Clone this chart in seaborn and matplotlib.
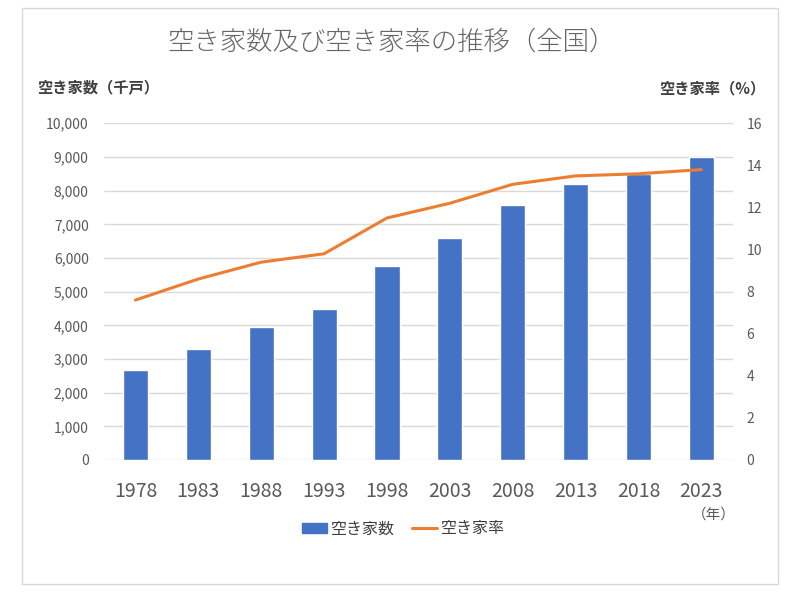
import matplotlib
matplotlib.use("Agg")
import matplotlib.pyplot as plt
import pandas as pd
import seaborn as sns
from matplotlib.patches import Rectangle
from matplotlib.lines import Line2D

YEARS = ["1978", "1983", "1988", "1993", "1998", "2003", "2008", "2013", "2018", "2023"]
VACANT = [2679, 3302, 3940, 4476, 5764, 6593, 7568, 8195, 8489, 9000]
RATE = [7.6, 8.6, 9.4, 9.8, 11.5, 12.2, 13.1, 13.5, 13.6, 13.8]

BAR_COLOR = "#4472C4"
LINE_COLOR = "#ED7D31"
TEXT_COLOR = "#595959"
GRID_COLOR = "#D9D9D9"

sns.set_style("white")
plt.rcParams["font.family"] = ["Noto Sans CJK JP", "DejaVu Sans"]

df = pd.DataFrame({"year": YEARS, "vacant": VACANT, "rate": RATE})

fig = plt.figure(figsize=(8, 5.95), dpi=100)
fig.patches.append(Rectangle((0.028, 0.018), 0.944, 0.969, transform=fig.transFigure,
                             fill=False, edgecolor="#D9D9D9", linewidth=1))

ax = fig.add_axes([0.13, 0.2269, 0.786, 0.5659])
sns.barplot(data=df, x="year", y="vacant", color=BAR_COLOR, width=0.40,
            saturation=1, ax=ax, zorder=2)
ax.set_xlim(-0.5, 9.5)
ax.set_ylim(0, 10000)
ax.set_yticks(range(0, 10001, 1000))
ax.set_yticklabels([f"{v:,}" for v in range(0, 10001, 1000)])
ax.yaxis.grid(True, color=GRID_COLOR, linewidth=1, zorder=0)
ax.set_axisbelow(True)
for s in ax.spines.values():
    s.set_visible(False)
ax.tick_params(axis="y", length=0, labelsize=10, colors=TEXT_COLOR, pad=11)
ax.tick_params(axis="x", length=0, labelsize=14, colors=TEXT_COLOR, pad=15)
ax.set_xlabel("")
ax.set_ylabel("")

ax2 = ax.twinx()
sns.lineplot(x=list(range(len(YEARS))), y=df["rate"], color=LINE_COLOR,
             linewidth=2.2, ax=ax2)
ax2.set_ylim(0, 16)
ax2.set_yticks(range(0, 17, 2))
for s in ax2.spines.values():
    s.set_visible(False)
ax2.tick_params(axis="y", length=0, labelsize=10, colors=TEXT_COLOR, pad=10)
ax2.set_ylabel("")
ax2.set_xlim(-0.5, 9.5)

fig.text(0.49, 0.931, "空き家数及び空き家率の推移（全国）", ha="center", va="center",
         fontsize=19, color="#666666", fontweight="light")
fig.text(0.046, 0.852, "空き家数（千戸）", ha="left", va="center",
         fontsize=11, color="#404040", fontweight="bold")
fig.text(0.957, 0.852, "空き家率（%）", ha="right", va="center",
         fontsize=11, color="#404040", fontweight="bold")
fig.text(0.892, 0.135, "（年）", ha="center", va="center",
         fontsize=10.5, color=TEXT_COLOR)

handles = [Rectangle((0, 0), 1, 1, color=BAR_COLOR),
           Line2D([0], [0], color=LINE_COLOR, linewidth=2.2)]
fig.legend(handles, ["空き家数", "空き家率"], loc="center", bbox_to_anchor=(0.504, 0.111),
           ncol=2, frameon=False, fontsize=11.5, labelcolor="#404040",
           handlelength=1.55, handleheight=0.55, columnspacing=1.1, handletextpad=0.2)

fig.savefig("out.png", dpi=100)
